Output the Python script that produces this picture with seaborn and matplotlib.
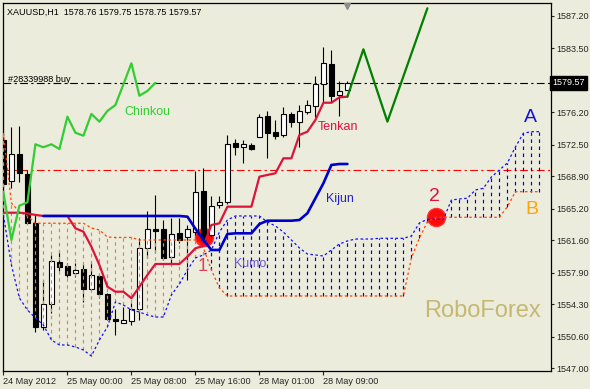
import numpy as np
import matplotlib
matplotlib.use("Agg")
import matplotlib.pyplot as plt
import matplotlib.transforms as mtransforms
import seaborn as sns

# === DATA (XAUUSD, H1, bar 0 = 24 May 2012 16:00) ===
time_labels = ["24 May 2012", "25 May 00:00", "25 May 08:00",
               "25 May 16:00", "28 May 01:00", "28 May 09:00"]
label_bars = [0, 8, 16, 24, 32, 40]

opens = [1573.00, 1568.41, 1571.45, 1569.17, 1563.61, 1551.68, 1554.30, 1559.09,
         1558.71, 1557.91, 1558.30, 1556.01, 1557.53, 1555.48, 1552.59, 1552.20,
         1552.43, 1553.73, 1560.69, 1562.86, 1562.86, 1559.66, 1562.40, 1561.95,
         1562.59, 1567.23, 1562.21, 1565.63, 1565.94, 1572.67, 1572.22, 1572.48,
         1573.43, 1575.79, 1574.00, 1573.62, 1576.02, 1575.14, 1576.28, 1576.93,
         1579.40, 1581.72, 1578.18, 1578.76]
highs = [1577.50, 1574.57, 1574.65, 1569.63, 1564.49, 1557.07, 1559.93, 1560.38,
         1558.98, 1558.98, 1558.90, 1559.16, 1557.76, 1555.63, 1553.73, 1554.00,
         1554.42, 1561.83, 1564.95, 1566.77, 1563.92, 1564.12, 1564.12, 1563.35,
         1569.55, 1569.82, 1566.66, 1566.66, 1573.62, 1573.13, 1573.05, 1572.67,
         1576.02, 1576.39, 1575.33, 1576.85, 1576.28, 1577.04, 1577.61, 1580.35,
         1583.63, 1583.32, 1579.81, 1579.75]
lows = [1565.00, 1567.57, 1568.29, 1563.58, 1551.11, 1551.37, 1553.28, 1558.14,
        1557.45, 1557.38, 1554.60, 1555.95, 1554.99, 1552.51, 1550.80, 1552.13,
        1551.94, 1552.51, 1559.55, 1560.12, 1559.40, 1558.79, 1561.26, 1557.07,
        1562.21, 1561.30, 1562.00, 1565.26, 1565.70, 1571.34, 1570.46, 1571.91,
        1573.40, 1570.96, 1573.16, 1573.43, 1574.57, 1572.22, 1576.00, 1575.71,
        1577.42, 1577.42, 1575.79, 1578.75]
closes = [1568.00, 1571.45, 1569.25, 1563.61, 1551.68, 1554.34, 1559.21, 1558.52,
          1557.61, 1558.18, 1556.01, 1557.61, 1555.48, 1552.59, 1552.43, 1552.51,
          1553.73, 1560.69, 1562.86, 1562.70, 1559.55, 1562.29, 1561.64, 1562.86,
          1567.08, 1561.64, 1565.55, 1565.94, 1572.56, 1572.22, 1572.56, 1572.02,
          1575.71, 1573.88, 1573.54, 1576.02, 1575.14, 1576.36, 1577.04, 1579.40,
          1581.80, 1578.10, 1578.64, 1579.57]

tenkan = [1564.75, 1564.75, 1564.75, 1564.66, 1564.50, 1564.38, 1564.38, 1564.38,
          1564.38, 1562.97, 1562.59, 1560.87, 1558.79, 1556.31, 1555.74, 1555.74,
          1554.99, 1556.31, 1557.65, 1558.90, 1558.90, 1558.90, 1558.90, 1559.73,
          1560.69, 1560.95, 1563.35, 1563.54, 1565.44, 1565.44, 1565.44, 1565.44,
          1568.86, 1569.06, 1569.25, 1570.96, 1570.96, 1573.62, 1574.00, 1575.33,
          1577.30, 1577.30, 1577.92, 1577.99]
kijun = [None, None, None, None, None, 1564.38, 1564.38, 1564.38,
         1564.38, 1564.38, 1564.38, 1564.38, 1564.38, 1564.38, 1564.38, 1564.38,
         1564.38, 1564.38, 1564.38, 1564.38, 1564.38, 1564.38, 1564.38, 1564.30,
         1562.93, 1561.64, 1560.50, 1560.50, 1562.32, 1562.40, 1562.40, 1562.40,
         1563.46, 1563.84, 1563.84, 1563.84, 1563.84, 1563.92, 1564.69, 1566.40,
         1568.11, 1570.20, 1570.31, 1570.31]
senkou_a = [1564.49, 1558.79, 1555.02, 1553.65, 1552.74, 1551.94, 1550.23, 1549.66,
            1549.66, 1549.43, 1549.09, 1548.40, 1550.23, 1551.71, 1554.57, 1554.22,
            1553.65, 1553.42, 1553.08, 1552.85, 1552.85, 1555.36, 1556.62, 1558.22,
            1559.59, 1559.93, 1560.50, 1562.55, 1563.92, 1564.38, 1564.38, 1564.38,
            1564.38, 1563.69, 1563.24, 1562.55, 1561.64, 1560.73, 1560.04, 1559.93,
            1559.81, 1560.50, 1561.18, 1561.53, 1561.75, 1561.75, 1561.75, 1561.83,
            1561.83, 1561.83, 1561.83, 1562.10, 1563.58, 1564.00, 1564.00, 1564.00,
            1566.20, 1566.32, 1566.40, 1567.35, 1567.54, 1568.83, 1569.63, 1570.43,
            1572.25, 1573.82, 1574.00, 1574.00]
senkou_b = [1573.85, 1565.86, 1564.84, 1564.38, 1563.55, 1563.55, 1563.55, 1563.55,
            1563.55, 1563.55, 1563.55, 1563.01, 1562.78, 1561.98, 1561.93, 1561.93,
            1561.93, 1561.64, 1561.64, 1561.64, 1561.64, 1561.64, 1561.64, 1561.64,
            1561.64, 1560.73, 1558.22, 1556.16, 1555.25, 1555.25, 1555.25, 1555.25,
            1555.25, 1555.25, 1555.25, 1555.25, 1555.25, 1555.25, 1555.25, 1555.25,
            1555.25, 1555.25, 1555.25, 1555.25, 1555.25, 1555.25, 1555.25, 1555.25,
            1555.25, 1555.25, 1555.25, 1559.59, 1561.87, 1563.69, 1564.23, 1564.23,
            1564.23, 1564.23, 1564.23, 1564.23, 1564.23, 1564.23, 1564.23, 1565.44,
            1567.15, 1567.15, 1567.15, 1567.15]
chinkou_shift = 24

forecast_bars = [43, 45, 48, 53]
forecast_prices = [1577.99, 1583.40, 1575.14, 1588.08]

order_price = 1579.57
stop_price = 1569.60
bid_price = 1579.57
header = "XAUUSD,H1  1578.76 1579.75 1578.75 1579.57"
order_label = "#28339988 buy"

signal_bars = [25.05, 54.1]
signal_prices = [1562.02, 1564.30]

price_ticks = [1547.00, 1550.60, 1554.30, 1557.90, 1561.60, 1565.20,
               1568.90, 1572.50, 1576.20, 1583.50, 1587.20]

# === STYLE ===
BG = "#ececdc"
sns.set_style("white", {"axes.facecolor": BG, "figure.facecolor": BG,
                        "axes.edgecolor": "black"})
plt.rcParams['font.family'] = ['Liberation Sans', 'DejaVu Sans']

fig = plt.figure(figsize=(5.9, 3.89), dpi=100)
ax = fig.add_axes([3 / 590, 1 - 371 / 389, 548 / 590, 368 / 389])

bars = np.arange(len(closes))
o = np.array(opens); h = np.array(highs); l = np.array(lows); c = np.array(closes)
cloud_x = np.arange(len(senkou_a))
sa = np.array(senkou_a); sb = np.array(senkou_b)

# horizontal order / stop lines (behind candles)
ax.axhline(order_price, color="black", lw=0.8, ls=(0, (7, 3, 2, 3)), zorder=1)
ax.axhline(stop_price, color="#ff0000", lw=0.8, ls=(0, (7, 3, 2, 3)), zorder=1)

# signal circles
ax.plot(signal_bars, signal_prices, "o", ms=13, color="#ff0a0a", mec="#ff3030",
        zorder=2.5)

# candles
ax.vlines(bars, l, h, color="black", lw=0.8, zorder=3)
up = c >= o
ax.bar(bars, np.abs(c - o), bottom=np.minimum(o, c), width=0.65,
       color=np.where(up, "white", "black"), edgecolor="black", lw=0.8, zorder=3.1)

# kumo hatching
hatch_col = np.where(sa >= sb, "#0000e0", "#f47a50")
ax.vlines(cloud_x, np.minimum(sa, sb), np.maximum(sa, sb), colors=hatch_col,
          lw=0.85, linestyles=(0, (3, 3)), zorder=3.5)
sns.lineplot(x=cloud_x, y=sa, ax=ax, color="#1010ff", lw=0.9,
             linestyle=(0, (2, 2)), estimator=None, sort=False, legend=False, zorder=3.6)
sns.lineplot(x=cloud_x, y=sb, ax=ax, color="#ff4500", lw=0.9,
             linestyle=(0, (2, 2)), estimator=None, sort=False, legend=False, zorder=3.6)

# ichimoku lines
sns.lineplot(x=bars, y=tenkan, ax=ax, color="#dc143c", lw=1.6,
             estimator=None, sort=False, legend=False, zorder=4)
kj = np.array([np.nan if v is None else v for v in kijun])
sns.lineplot(x=bars, y=kj, ax=ax, color="#0000cd", lw=1.9,
             estimator=None, sort=False, legend=False, zorder=4.1)
chk = c[chinkou_shift:]
sns.lineplot(x=np.arange(len(chk)), y=chk, ax=ax, color="#32cd32", lw=1.6,
             estimator=None, sort=False, legend=False, zorder=4.2)

# forecast zigzag
sns.lineplot(x=forecast_bars, y=forecast_prices, ax=ax, color="#008000", lw=1.6,
             estimator=None, sort=False, legend=False, zorder=4.3)

# labels on chart
ax.text(15.07, 1575.90, "Chinkou", color="#32cd32", fontsize=9, zorder=6)
ax.text(39.3, 1574.19, "Tenkan", color="#dc143c", fontsize=9, zorder=6)
ax.text(40.3, 1565.98, "Kijun", color="#2020d0", fontsize=9, zorder=6)
ax.text(28.8, 1558.50, "Kumo", color="#6a5acd", fontsize=9, zorder=6)
ax.text(24.3, 1558.10, "1", color="#e0405a", fontsize=13, zorder=6)
ax.text(53.2, 1566.12, "2", color="#dc143c", fontsize=14, zorder=6)
ax.text(65.1, 1575.11, "A", color="#1010e0", fontsize=14, zorder=6)
ax.text(65.2, 1564.66, "B", color="#ffa500", fontsize=14, zorder=6)
ax.text(52.6, 1552.89, "RoboForex", color="#c4b872", fontsize=17, zorder=6)

fig.text(6.7 / 590, 1 - 15 / 389, header, fontsize=6.5, color="black")
fig.text(8.3 / 590, 1 - 81.7 / 389, order_label, fontsize=6.6, color="black")

# chart shift marker
trans_top = mtransforms.blended_transform_factory(ax.transData, ax.transAxes)
ax.plot([43], [0.992], marker="v", ms=5, color="#8c8c8c", transform=trans_top,
        clip_on=False, zorder=7)

# === AXES ===
ax.set_xlim(-0.05, 68.45)
ax.set_ylim(1546.69, 1588.68)
ax.set_xticks(label_bars)
ax.set_xticklabels(time_labels, ha="left", fontsize=6.6)
ax.yaxis.tick_right()
ax.set_yticks(price_ticks)
ax.set_yticklabels([f"{p:.2f}" for p in price_ticks], fontsize=6.5)
ax.tick_params(axis="x", direction="out", length=3, width=0.8, pad=1.5, bottom=True)
ax.tick_params(axis="y", direction="out", length=2.5, width=0.8, pad=1.2, right=True, left=False)
ax.set_xlabel("")
ax.set_ylabel("")
for s in ax.spines.values():
    s.set_linewidth(0.9)
    s.set_color("black")

trans_right = mtransforms.blended_transform_factory(ax.transAxes, ax.transData)
ax.text(1.003, bid_price, "1579.57", transform=trans_right, fontsize=6.5,
        color="white", va="center", ha="left", zorder=8,
        bbox=dict(boxstyle="square,pad=0.25", fc="black", ec="black"))

fig.savefig("out.png", dpi=100, facecolor=BG)
